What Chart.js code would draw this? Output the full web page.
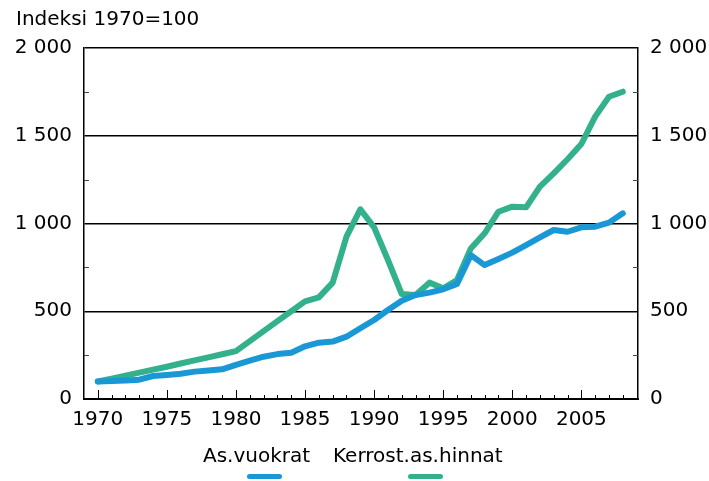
<!DOCTYPE html>
<html>
<head>
<meta charset="utf-8">
<script src="https://cdn.jsdelivr.net/npm/chart.js@4.4.1/dist/chart.umd.min.js"></script>
<style>
  body { margin: 0; background: #fff; }
  #wrap { position: relative; width: 709px; height: 481px; font-family: "DejaVu Sans", Verdana, sans-serif; color: #000; }
  #title { position: absolute; left: 16px; top: 8px; font-size: 20px; line-height: 1; }
  .leg { position: absolute; top: 445px; font-size: 20px; line-height: 1; }
  .mark { position: absolute; top: 474px; width: 35px; height: 5px; border-radius: 3px; }
</style>
</head>
<body>
<div id="wrap">
  <canvas id="myChart" width="709" height="481"></canvas>
  <div id="title">Indeksi 1970=100</div>
  <div id="legend"></div>
</div>
<script>
// years on x axis
let years = [1970, 1971, 1972, 1973, 1974, 1975, 1976, 1977, 1978, 1979,
             1980, 1981, 1982, 1983, 1984, 1985, 1986, 1987, 1988, 1989,
             1990, 1991, 1992, 1993, 1994, 1995, 1996, 1997, 1998, 1999,
             2000, 2001, 2002, 2003, 2004, 2005, 2006, 2007, 2008];

// As.vuokrat (rents)
let rents = [100, 102, 106, 110, 131, 137, 144, 156, 163, 169,
             195, 218, 241, 256, 264, 300, 321, 327, 355, 403,
             450, 507, 560, 593, 606, 625, 656, 820, 763, 798,
             834, 877, 921, 963, 953, 978, 982, 1005, 1058];

// Kerrost.as.hinnat (flat prices)
let prices = [100, 116, 133, 150, 167, 184, 202, 220, 237, 255,
              273, 330, 387, 444, 500, 556, 579, 663, 925, 1081,
              978, 792, 598, 593, 663, 631, 678, 858, 944, 1067,
              1096, 1092, 1210, 1286, 1366, 1453, 1609, 1722, 1751];

let seriesNames = ['As.vuokrat', 'Kerrost.as.hinnat'];
let seriesColors = ['#1a98d5', '#33b08c'];

let yTicks = [0, 500, 1000, 1500, 2000];
let yMinorTicks = [250, 750, 1250, 1750];
let xLabelTicks = [1970, 1975, 1980, 1985, 1990, 1995, 2000, 2005];

function fmt(v) {
    return String(v).replace(/\B(?=(\d{3})+(?!\d))/g, ' ');
}

// draws the small inside ticks (x years, y minor steps)
const innerTicks = {
    id: 'innerTicks',
    afterDraw(chart) {
        let c = chart.ctx;
        let area = chart.chartArea;
        let x = chart.scales.x;
        let y = chart.scales.y;
        c.save();
        c.strokeStyle = '#000';
        c.lineWidth = 1;
        for (let yr = 1970; yr <= 2008; yr++) {
            let px = Math.round(x.getPixelForValue(yr)) + 0.5;
            let len = yr % 5 === 0 ? 9 : 4;
            c.beginPath();
            c.moveTo(px, area.bottom);
            c.lineTo(px, area.bottom - len);
            c.stroke();
        }
        c.strokeStyle = '#444';
        yMinorTicks.forEach(v => {
            let py = Math.round(y.getPixelForValue(v)) + 0.5;
            c.beginPath();
            c.moveTo(area.left, py);
            c.lineTo(area.left + 5, py);
            c.moveTo(area.right, py);
            c.lineTo(area.right - 5, py);
            c.stroke();
        });
        c.restore();
    }
};

let ctx = document.getElementById('myChart').getContext('2d');
Chart.defaults.font.family = '"DejaVu Sans", Verdana, sans-serif';
Chart.defaults.font.size = 20;
Chart.defaults.color = '#000';

let datasets = [rents, prices].map((vals, i) => ({
    label: seriesNames[i],
    data: years.map((yr, k) => ({ x: yr, y: vals[k] })),
    borderColor: seriesColors[i],
    backgroundColor: seriesColors[i],
    borderWidth: 6,
    borderCapStyle: 'round',
    borderJoinStyle: 'round',
    pointRadius: 0,
    tension: 0
}));

let myChart = new Chart(ctx, {
    type: 'line',
    data: { datasets: datasets },
    options: {
        responsive: false,
        animation: false,
        layout: { padding: { top: 48, bottom: 0, left: 0, right: 0 } },
        plugins: { legend: { display: false }, tooltip: { enabled: false } },
        scales: {
            x: {
                type: 'linear',
                min: 1969,
                max: 2009.1,
                afterBuildTicks: s => { s.ticks = xLabelTicks.map(v => ({ value: v })); },
                afterFit: s => { s.height = 82; },
                grid: { display: false, drawTicks: false },
                border: { color: '#000', width: 2 },
                ticks: { padding: 9, maxRotation: 0, autoSkip: false, callback: v => String(v) }
            },
            y: {
                position: 'left',
                min: 0,
                max: 2000,
                afterBuildTicks: s => { s.ticks = yTicks.map(v => ({ value: v })); },
                afterFit: s => { s.width = 84; },
                grid: { color: '#000', lineWidth: 1.5, drawTicks: false },
                border: { color: '#000', width: 1.5 },
                ticks: { padding: 12, callback: v => fmt(v) }
            },
            y2: {
                position: 'right',
                min: 0,
                max: 2000,
                afterBuildTicks: s => { s.ticks = yTicks.map(v => ({ value: v })); },
                afterFit: s => { s.width = 71; },
                grid: { display: false, drawTicks: false },
                border: { color: '#000', width: 1.5 },
                ticks: { padding: 12, callback: v => fmt(v) }
            }
        }
    },
    plugins: [innerTicks]
});

// legend under the chart
let legendPos = [{ text: 203, mark: 247 }, { text: 333, mark: 408 }];
let legend = document.getElementById('legend');
seriesNames.forEach((name, i) => {
    let t = document.createElement('div');
    t.className = 'leg';
    t.style.left = legendPos[i].text + 'px';
    t.textContent = name;
    legend.appendChild(t);
    let m = document.createElement('div');
    m.className = 'mark';
    m.style.left = legendPos[i].mark + 'px';
    m.style.background = seriesColors[i];
    legend.appendChild(m);
});
</script>
</body>
</html>
